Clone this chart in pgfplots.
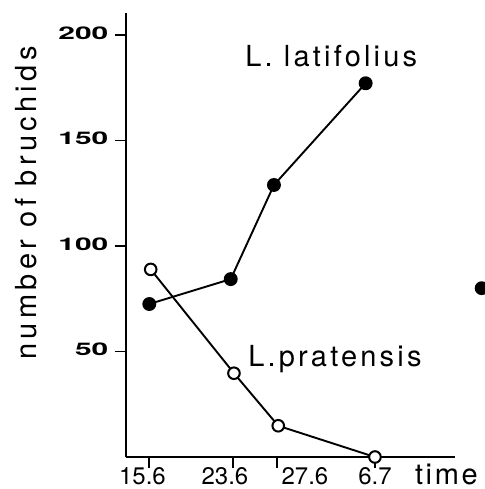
\documentclass[border=0pt]{standalone}
\usepackage{fontspec}
\setmainfont{TeX Gyre Heros}
\newfontfamily\labfont[LetterSpace=11]{TeX Gyre Heros}
\newfontfamily\timefont[LetterSpace=9]{TeX Gyre Heros}
\newfontfamily\ylabfont[LetterSpace=15]{TeX Gyre Heros}
\usepackage{graphicx}
\usepackage{pgfplots}
\pgfplotsset{compat=1.18}
\newcommand{\widenum}[1]{\scalebox{1.72}[1]{\fontsize{8.7}{10}\bfseries\selectfont #1}}
\begin{document}
\begin{tikzpicture}
\begin{axis}[
  scale only axis, width=164.5pt, height=222pt,
  xmin=12.85, xmax=43.6, ymin=0, ymax=210.4,
  axis x line*=bottom, axis y line*=left,
  axis line style={line width=1pt, black},
  tick align=outside, major tick length=5.5pt,
  tick style={line width=0.9pt, black},
  xtick={15,22.85,26.96,36.12},
  xticklabels={\hspace*{-6.5pt}15.6,\hspace*{-8pt}23.6,\hspace*{28pt}27.6,6.7},
  ytick={50,100,150,200},
  yticklabels={\widenum{50},\widenum{100},\widenum{150},\widenum{200}},
  /pgf/number format/assume math mode=true,
  xticklabel style={font=\fontsize{12}{14}\selectfont, anchor=base, inner sep=0pt, yshift=-8.3pt},
  yticklabel style={anchor=east, inner sep=0pt, xshift=-3.1pt, yshift=1pt},
  xlabel={time},
  xlabel style={at={(axis description cs:0.8775,-0.0619)}, anchor=base west, inner sep=0pt, font=\timefont\fontsize{14.5}{17}\selectfont},
  ylabel={number of bruchids},
  ylabel style={at={(axis description cs:-0.2705,0.5720)}, anchor=base, rotate=0, inner sep=0pt, font=\ylabfont\fontsize{14.5}{17}\selectfont},
  clip=false,
]
\addplot[black, line width=0.95pt, mark=*, mark size=3pt, mark options={solid, fill=black}]
  coordinates {(15.03,72.5) (22.64,84.3) (26.68,128.9) (35.25,177.1)};
\addplot[black, line width=0.95pt, mark=*, mark size=2.9pt, mark options={solid, fill=white, line width=1pt}]
  coordinates {(15.16,88.9) (22.94,39.7) (27.08,14.8) (36.12,0)};
\addplot[black, only marks, mark=*, mark size=3pt, line width=0.9pt, mark options={fill=black}]
  coordinates {(46.09,80)};
\node[anchor=base west, inner sep=0pt, font=\labfont\fontsize{14.5}{17}\selectfont] at (axis description cs:0.3617,0.8784) {L. latifolius};
\node[anchor=base west, inner sep=0pt, font=\labfont\fontsize{14.5}{17}\selectfont] at (axis description cs:0.3708,0.2034) {L.pratensis};
\coordinate (bl) at (axis cs:1.075,-15.16);
\coordinate (tr) at (axis cs:46.40,216.56);
\end{axis}
\pgfresetboundingbox
\path[use as bounding box] (bl) rectangle (tr);
\end{tikzpicture}
\end{document}
